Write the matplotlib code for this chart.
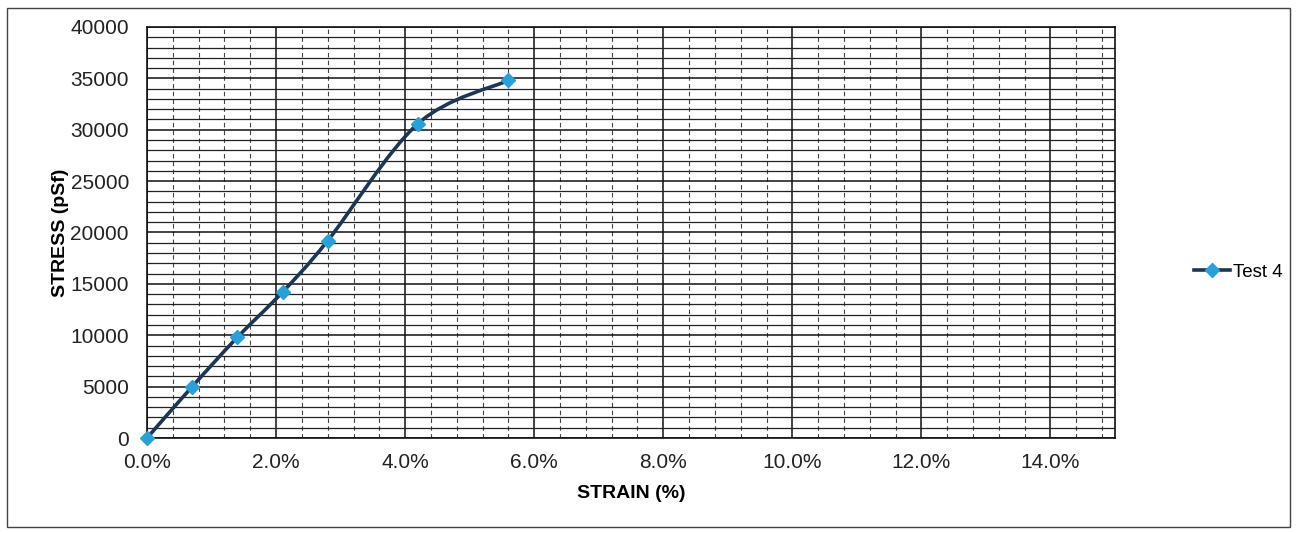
import numpy as np
import matplotlib
matplotlib.use("Agg")
import matplotlib.pyplot as plt
from matplotlib.path import Path
from matplotlib.patches import PathPatch, Rectangle
from matplotlib.lines import Line2D
from matplotlib.ticker import MultipleLocator, PercentFormatter

plt.rcParams['font.family'] = ['Liberation Sans', 'DejaVu Sans']

strain = [0.0, 0.007, 0.014, 0.021, 0.028, 0.042, 0.056]
stress = [0, 5000, 9800, 14200, 19200, 30600, 34800]
series_name = "Test 4"

line_color = "#1d3652"
marker_color = "#2aa0d6"

fig = plt.figure(figsize=(12.96, 5.33), dpi=100)
ax = fig.add_axes([147 / 1296, 1 - 438 / 533, (1115 - 147) / 1296, (438 - 27) / 533])

# outer frame around the chart area
fig.patches.append(Rectangle((7 / 1296, 6 / 533), (1290 - 7) / 1296, (527 - 8) / 533,
                             transform=fig.transFigure, fill=False, ec="#444444", lw=1.0))

ax.set_xlim(0, 0.15)
ax.set_ylim(0, 40000)
ax.xaxis.set_major_locator(MultipleLocator(0.02))
ax.xaxis.set_minor_locator(MultipleLocator(0.004))
ax.yaxis.set_major_locator(MultipleLocator(5000))
ax.yaxis.set_minor_locator(MultipleLocator(1000))
ax.xaxis.set_major_formatter(PercentFormatter(1.0, decimals=1))

ax.grid(which="major", axis="both", color="#111111", lw=1.1)
ax.grid(which="minor", axis="y", color="#222222", lw=0.9)
ax.grid(which="minor", axis="x", color="#444444", lw=0.8, ls=(0, (4, 3)))
ax.set_axisbelow(True)

ax.tick_params(which="both", length=0, labelsize=15, colors="#222222")
ax.tick_params(axis="y", pad=13)
ax.tick_params(axis="x", pad=11)
for s in ax.spines.values():
    s.set_color("#111111")
    s.set_linewidth(1.2)

ax.set_xlabel("STRAIN (%)", fontsize=14, fontweight="bold", labelpad=9)
ax.set_ylabel("STRESS (pSf)", fontsize=14, fontweight="bold", labelpad=1)

# smoothed connecting line (Catmull-Rom style Bezier segments)
pts = np.column_stack([strain, stress]).astype(float)
n = len(pts)
verts = [pts[0]]
codes = [Path.MOVETO]
for i in range(n - 1):
    p0 = pts[i - 1] if i > 0 else pts[i]
    p1 = pts[i]
    p2 = pts[i + 1]
    p3 = pts[i + 2] if i + 2 < n else pts[i + 1]
    c1 = p1 + (p2 - p0) / 6.0
    c2 = p2 - (p3 - p1) / 6.0
    verts += [c1, c2, p2]
    codes += [Path.CURVE4] * 3
ax.add_patch(PathPatch(Path(verts, codes), fill=False, ec=line_color, lw=2.6,
                       zorder=3, clip_on=False))
ax.plot(strain, stress, ls="none", marker="D", ms=7, color=marker_color,
        mec=marker_color, zorder=4, clip_on=False)

handle = Line2D([], [], color=line_color, lw=2.6, marker="D", ms=7,
                mfc=marker_color, mec=marker_color)
fig.legend([handle], [series_name], loc="center left",
           bbox_to_anchor=(1185 / 1296, 1 - 272 / 533), frameon=False,
           fontsize=13.5, handlelength=1.9, handletextpad=0.15, borderpad=0)

fig.savefig("out.png", dpi=100, facecolor="white")
